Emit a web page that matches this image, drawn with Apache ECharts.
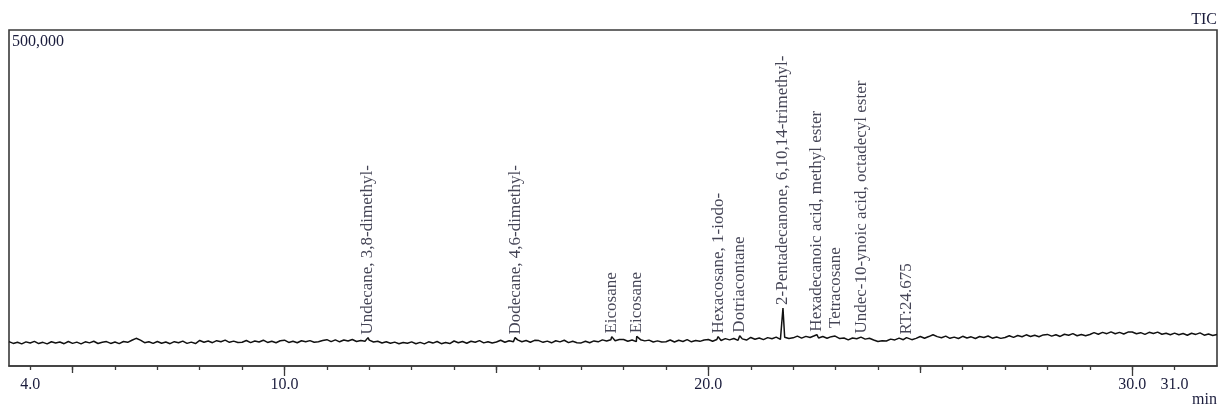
<!DOCTYPE html>
<html>
<head>
<meta charset="utf-8">
<script src="https://cdn.jsdelivr.net/npm/echarts@6/dist/echarts.min.js"></script>
<style>
html,body{margin:0;padding:0;background:#fff;}
#chart{width:1223px;height:410px;}
</style>
</head>
<body>
<div id="chart"></div>
<script>
// TIC trace sampled every 0.1 min from 3.5 min
const traceStart = 3.5;
const traceStep = 0.1;
const ticBaseline = [
  36200, 33600, 35400, 32900, 35900,
  34300, 36700, 33400, 35200, 32900, 36100, 34100, 35800, 33200, 36400,
  33700, 35500, 33000, 36000, 34400, 36800, 33500, 35300, 36300, 33600,
  35600, 33300, 36400, 35200, 38300, 41200, 38500, 34700, 36100, 33600,
  36500, 33900, 35700, 33200, 36200, 34600, 37000, 33700, 35500, 33400,
  38000, 35400, 37200, 34700, 37700, 36100, 38500, 35200, 37000, 34900,
  35300, 37900, 34800, 37100, 35800, 38400, 35100, 36900, 34600, 37600,
  38400, 35100, 36900, 34600, 37600, 36000, 37800, 35300, 36100, 38000,
  39200, 36200, 38900, 36000, 38700, 37100, 39500, 36400, 38000, 36900,
  38600, 35800, 36900, 34300, 36000, 33900, 35500, 33200, 35100, 33800,
  35900, 33100, 35200, 32900, 36000, 34100, 36500, 33200, 35000, 33400,
  37200, 34600, 36400, 33900, 36900, 35300, 37700, 34400, 36200, 34100,
  35700, 38300, 35300, 37500, 36000, 38800, 36100, 37900, 35400, 38200,
  37800, 35200, 37000, 34500, 37500, 35900, 38300, 34800, 36800, 34700,
  34400, 36900, 34600, 37300, 36000, 38900, 37200, 39100, 37600, 39500,
  39500, 36900, 38700, 36200, 39200, 37400, 38500, 35800, 37400, 35600,
  36100, 38700, 35700, 38300, 36500, 39200, 36000, 38000, 36700, 38800,
  39500, 36900, 39500, 37900, 40700, 38900, 41000, 38200, 40400, 38600,
  42500, 39900, 41700, 39200, 42200, 40600, 43000, 39700, 42900, 40800,
  41900, 44500, 41500, 44100, 42400, 45000, 41700, 43800, 41400, 43700,
  43600, 40800, 41700, 38900, 41600, 40600, 43000, 40000, 41200, 38600,
  36400, 37600, 37200, 40000, 38800, 41500, 39100, 41600, 39200, 41100,
  43900, 41300, 43800, 46500, 43700, 42100, 44500, 41200, 43000, 40900,
  44200, 41600, 43400, 40900, 43900, 42300, 44700, 41400, 43200, 41100,
  42400, 45000, 42600, 45300, 43600, 46400, 43900, 45700, 43600, 46300,
  47000, 44400, 46600, 44000, 47300, 45700, 48200, 45000, 46900, 45100,
  46900, 49600, 47300, 50000, 48100, 50800, 48000, 50000, 47600, 50500,
  50500, 47900, 49600, 47000, 50100, 48300, 50400, 47200, 48800, 46600,
  48900, 46400, 48300, 45700, 48800, 47000, 49300, 45900, 47600, 45500,
  47000
];

// Identified peaks
const peakNames = [
  'Undecane, 3,8-dimethyl-',
  'Dodecane, 4,6-dimethyl-',
  'Eicosane',
  'Eicosane',
  'Hexacosane, 1-iodo-',
  'Dotriacontane',
  '2-Pentadecanone, 6,10,14-trimethyl-',
  'Hexadecanoic acid, methyl ester',
  'Tetracosane',
  'Undec-10-ynoic acid, octadecyl ester',
  'RT:24.675'
];
const peakRT = [11.97, 15.44, 17.72, 18.31, 20.23, 20.74, 21.76, 22.56, 22.99, 23.62, 24.675];
const peakHeight = [42200, 42200, 43700, 44100, 43700, 45100, 86300, 46600, 44500, 43700, 42200];

// Axis ticks / labels
const minorTicks = [4,5,6,7,8,9,10,11,12,13,14,15,16,17,18,19,20,21,22,23,24,25,26,27,28,29,30,31];
const midTicks = [5, 15, 25];
const majorTicks = [10, 20, 30];
const tickLabels = [4, 10, 20, 30, 31];
const yLabel = [500000];

const trace = ticBaseline.map((v, i) => [Math.round((traceStart + i * traceStep) * 100) / 100, v])
  .concat(peakRT.map((t, i) => [t, peakHeight[i]]))
  .sort((a, b) => a[0] - b[0]);

const labelData = peakRT.map((t, i) => {
  const item = { value: [t, peakHeight[i]], name: peakNames[i] };
  if (peakNames[i] === 'Tetracosane') item.label = { distance: 8 };
  return item;
});

const serif = '"Liberation Serif", "Times New Roman", serif';
const txtColor = '#1a1c3c';
const xMin = 3.5, xMax = 32;

const chart = echarts.init(document.getElementById('chart'), null, { renderer: 'canvas' });
chart.setOption({
  animation: false,
  backgroundColor: '#ffffff',
  title: [
    { text: 'TIC', right: 6, top: 12, padding: 0,
      textStyle: { fontFamily: serif, fontSize: 16, fontWeight: 'normal', color: txtColor } },
    { text: 'min', right: 6, top: 392, padding: 0,
      textStyle: { fontFamily: serif, fontSize: 16, fontWeight: 'normal', color: txtColor } }
  ],
  grid: {
    left: 9, top: 30, width: 1208, height: 336,
    show: true, borderColor: '#3a3a3a', borderWidth: 1.6, backgroundColor: 'transparent'
  },
  xAxis: [
    {
      type: 'value', min: xMin, max: xMax, position: 'bottom',
      axisLine: { show: true, lineStyle: { color: '#3a3a3a', width: 1.6 } },
      axisTick: { show: true, customValues: minorTicks, length: 4, lineStyle: { color: '#3a3a3a', width: 1.3 } },
      axisLabel: { show: true, customValues: tickLabels, margin: 11,
        formatter: v => Number(v).toFixed(1),
        fontFamily: serif, fontSize: 16, color: txtColor },
      splitLine: { show: false }
    },
    {
      type: 'value', min: xMin, max: xMax, position: 'bottom', gridIndex: 0,
      axisLine: { show: false },
      axisTick: { show: true, customValues: midTicks, length: 7, lineStyle: { color: '#3a3a3a', width: 1.3 } },
      axisLabel: { show: false },
      splitLine: { show: false }
    },
    {
      type: 'value', min: xMin, max: xMax, position: 'bottom', gridIndex: 0,
      axisLine: { show: false },
      axisTick: { show: true, customValues: majorTicks, length: 10, lineStyle: { color: '#3a3a3a', width: 1.3 } },
      axisLabel: { show: false },
      splitLine: { show: false }
    }
  ],
  yAxis: {
    type: 'value', min: 0, max: 500000,
    axisLine: { show: false },
    axisTick: { show: false },
    splitLine: { show: false },
    axisLabel: {
      show: true, inside: true, customValues: yLabel, margin: 3,
      verticalAlign: 'top', padding: [4, 0, 0, 0],
      formatter: v => Number(v).toLocaleString('en-US'),
      fontFamily: serif, fontSize: 16, color: txtColor
    }
  },
  series: [
    {
      type: 'line', xAxisIndex: 0, data: trace, showSymbol: false, symbol: 'none',
      sampling: null,
      lineStyle: { color: '#111111', width: 1.5 }, z: 3
    },
    {
      type: 'scatter', xAxisIndex: 0, data: labelData, symbolSize: 0.1,
      itemStyle: { color: 'transparent' },
      label: {
        show: true, position: 'top', distance: 3, rotate: 90,
        align: 'left', verticalAlign: 'middle',
        formatter: p => p.name,
        fontFamily: serif, fontSize: 17, color: '#15152a'
      },
      z: 4
    }
  ]
});
</script>
</body>
</html>
